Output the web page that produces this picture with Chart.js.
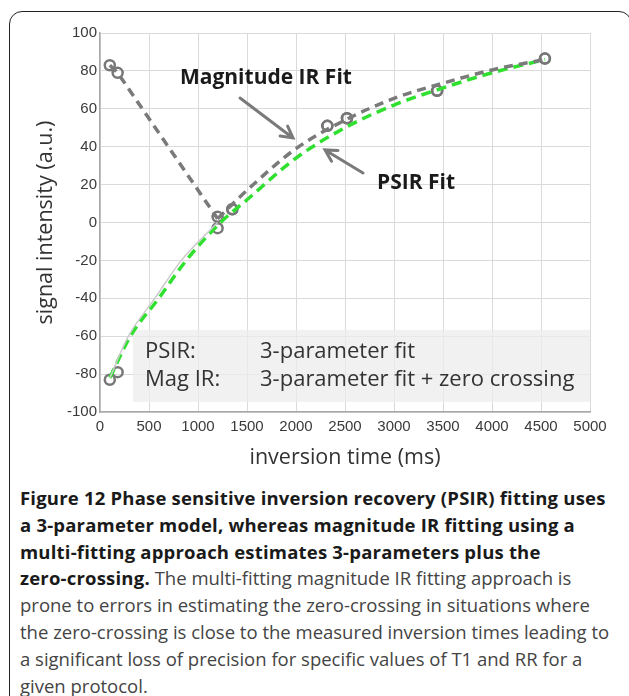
<!DOCTYPE html>
<html>
<head>
<meta charset="utf-8">
<script src="https://cdn.jsdelivr.net/npm/chart.js@4.4.1/dist/chart.umd.min.js"></script>
<style>
  html, body { margin: 0; padding: 0; background: #fff; }
  body { width: 629px; height: 696px; position: relative; overflow: hidden; }
  #marco { position: absolute; left: 9px; top: 11px; width: 623px; height: 720px; border: 1.5px solid #222; border-radius: 13px; box-sizing: border-box; }
  #zona { position: absolute; left: 0; top: 0; }
  #pie { position: absolute; left: 20px; top: 485px; font-family: "Open Sans", sans-serif; font-size: 18.5px; line-height: 26.8px; color: #444; white-space: nowrap; }
  #pie b { color: #1a1a1a; font-weight: 700; letter-spacing: 0.2px; }
</style>
</head>
<body>
<div id="marco"></div>
<canvas id="zona" width="629" height="472"></canvas>
<div id="pie">
  <b>Figure 12 Phase sensitive inversion recovery (PSIR) fitting uses</b><br>
  <b>a 3-parameter model, whereas magnitude IR fitting using a</b><br>
  <b>multi-fitting approach estimates 3-parameters plus the</b><br>
  <b>zero-crossing.</b> The multi-fitting magnitude IR fitting approach is<br>
  prone to errors in estimating the zero-crossing in situations where<br>
  the zero-crossing is close to the measured inversion times leading to<br>
  a significant loss of precision for specific values of T1 and RR for a<br>
  given protocol.
</div>
<script>
// puntos medidos (ms, u.a.)
const tiemposMedidos = [100, 180, 1200, 1350, 2320, 2520, 3440, 4540];
const senalPsir = [-83, -79, -3, 7, 51, 55, 69.5, 86.5];
const senalMagnitud = [83, 79, 3, 7, 51, 55, 69.5, 86.5];

// ajuste PSIR (verde)
const tiemposAjustePsir = [100, 310, 600, 880, 1230, 1500, 2000, 2500, 3000, 3440, 4000, 4540];
const valoresAjustePsir = [-82, -60, -40, -20, 0, 12, 34, 50, 62, 70, 79, 86];

// ajuste magnitud IR (gris), tramo descendente y tramo ascendente
const tiemposMagBaja = [100, 180, 1200];
const valoresMagBaja = [83, 79, 2];
const tiemposMagSube = [1200, 1500, 2000, 2500, 3000, 3500, 4000, 4540];
const valoresMagSube = [2, 17, 39, 54, 65.5, 73.5, 80.5, 86];

// curva fina gris claro bajo la verde
const tiemposCurvaFina = [100, 290, 560, 830, 1200];
const valoresCurvaFina = [-82, -60, -40, -20, 0];

const ticksX = [0, 500, 1000, 1500, 2000, 2500, 3000, 3500, 4000, 4500, 5000];
const ticksY = [-100, -80, -60, -40, -20, 0, 20, 40, 60, 80, 100];

const aPuntos = (xs, ys) => xs.map((x, i) => ({ x, y: ys[i] }));

// anotaciones en unidades de datos
const textos = [
  { texto: "Magnitude IR Fit", x: 816, y: 76.3 },
  { texto: "PSIR Fit", x: 2827, y: 20.8 }
];
const flechas = [
  { desde: [1429, 65.7], hasta: [1969, 44.6] },
  { desde: [2684, 26.1], hasta: [2296, 38.3] }
];
const leyenda = {
  caja: { x0: 337, x1: 5000, y0: -56.7, y1: -94.7 },
  filas: [
    { etiqueta: "PSIR:", detalle: "3-parameter fit", y: -68.3 },
    { etiqueta: "Mag IR:", detalle: "3-parameter fit + zero crossing", y: -83.1 }
  ],
  xEtiqueta: 459,
  xDetalle: 1633
};

const fondoLeyenda = {
  id: "fondoLeyenda",
  beforeDatasetsDraw(chart) {
    const { ctx, scales: { x, y } } = chart;
    const c = leyenda.caja;
    ctx.save();
    ctx.fillStyle = "rgba(236,236,236,0.75)";
    ctx.fillRect(x.getPixelForValue(c.x0), y.getPixelForValue(c.y0),
      x.getPixelForValue(c.x1) - x.getPixelForValue(c.x0), y.getPixelForValue(c.y1) - y.getPixelForValue(c.y0));
    ctx.restore();
  }
};

const anotaciones = {
  id: "anotaciones",
  afterDatasetsDraw(chart) {
    const { ctx, scales: { x, y } } = chart;
    ctx.save();
    ctx.textBaseline = "middle";
    ctx.textAlign = "left";

    ctx.fillStyle = "#333";
    ctx.font = '22px "Open Sans"';
    leyenda.filas.forEach((fila) => {
      const py = y.getPixelForValue(fila.y);
      ctx.fillText(fila.etiqueta, x.getPixelForValue(leyenda.xEtiqueta), py);
      ctx.fillText(fila.detalle, x.getPixelForValue(leyenda.xDetalle), py);
    });

    ctx.fillStyle = "#1a1a1a";
    ctx.font = 'bold 21px "Open Sans"';
    textos.forEach((t) => ctx.fillText(t.texto, x.getPixelForValue(t.x), y.getPixelForValue(t.y)));

    ctx.strokeStyle = "#7a7a7a";
    ctx.lineWidth = 3;
    ctx.lineCap = "round";
    flechas.forEach((f) => {
      const x1 = x.getPixelForValue(f.desde[0]), y1 = y.getPixelForValue(f.desde[1]);
      const x2 = x.getPixelForValue(f.hasta[0]), y2 = y.getPixelForValue(f.hasta[1]);
      const ang = Math.atan2(y2 - y1, x2 - x1);
      ctx.beginPath();
      ctx.moveTo(x1, y1);
      ctx.lineTo(x2, y2);
      ctx.moveTo(x2 - 13 * Math.cos(ang - 0.5), y2 - 13 * Math.sin(ang - 0.5));
      ctx.lineTo(x2, y2);
      ctx.lineTo(x2 - 13 * Math.cos(ang + 0.5), y2 - 13 * Math.sin(ang + 0.5));
      ctx.stroke();
    });
    ctx.restore();
  }
};

const fuenteTicks = { family: '"Liberation Sans", Arial', size: 15 };
const fuenteTitulo = { family: '"Open Sans"', size: 21.5 };

new Chart(document.getElementById("zona"), {
  type: "scatter",
  data: {
    datasets: [
      {
        data: aPuntos(tiemposCurvaFina, valoresCurvaFina),
        showLine: true, borderColor: "#cccccc", borderWidth: 1.5, pointRadius: 0,
        cubicInterpolationMode: "monotone"
      },
      {
        data: aPuntos(tiemposMagBaja, valoresMagBaja),
        showLine: true, borderColor: "#7a7a7a", borderWidth: 3.5, borderDash: [9, 6], pointRadius: 0,
        tension: 0
      },
      {
        data: aPuntos(tiemposMagSube, valoresMagSube),
        showLine: true, borderColor: "#7a7a7a", borderWidth: 3.5, borderDash: [9, 6], pointRadius: 0,
        cubicInterpolationMode: "monotone"
      },
      {
        data: aPuntos(tiemposAjustePsir, valoresAjustePsir),
        showLine: true, borderColor: "#2fe02f", borderWidth: 3.5, borderDash: [10, 6], pointRadius: 0,
        cubicInterpolationMode: "monotone"
      },
      {
        data: aPuntos(tiemposMedidos, senalMagnitud),
        showLine: false, pointRadius: 5, pointBorderWidth: 2.5,
        pointBorderColor: "#777", pointBackgroundColor: "rgba(255,255,255,0)"
      },
      {
        data: aPuntos(tiemposMedidos, senalPsir),
        showLine: false, pointRadius: 5, pointBorderWidth: 2.5,
        pointBorderColor: "#777", pointBackgroundColor: "rgba(255,255,255,0)"
      }
    ]
  },
  options: {
    responsive: false,
    animation: false,
    layout: { padding: { top: 33, right: 39, left: 0, bottom: 0 } },
    plugins: { legend: { display: false }, tooltip: { enabled: false } },
    scales: {
      x: {
        type: "linear", min: 0, max: 5000,
        afterBuildTicks: (s) => { s.ticks = ticksX.map((v) => ({ value: v })); },
        ticks: { font: fuenteTicks, color: "#3a3a3a", padding: 6, maxRotation: 0, callback: (v) => String(v) },
        grid: { color: "#dadada", drawTicks: false },
        border: { color: "#a8a8a8", width: 1.5 },
        title: { display: true, text: "inversion time (ms)", font: fuenteTitulo, color: "#333", padding: { top: 0, bottom: 1 } },
        afterFit: (s) => { s.height = 60; }
      },
      y: {
        min: -100, max: 100,
        afterBuildTicks: (s) => { s.ticks = ticksY.map((v) => ({ value: v })); },
        ticks: { font: fuenteTicks, color: "#3a3a3a", padding: 3, callback: (v) => String(v) },
        grid: { color: "#dadada", drawTicks: false },
        border: { color: "#a8a8a8", width: 1.5 },
        title: { display: true, text: "signal intensity (a.u.)", font: fuenteTitulo, color: "#333", padding: { top: 33, bottom: 0 } },
        afterFit: (s) => { s.width = 100; }
      }
    }
  },
  plugins: [fondoLeyenda, anotaciones]
});
</script>
</body>
</html>
